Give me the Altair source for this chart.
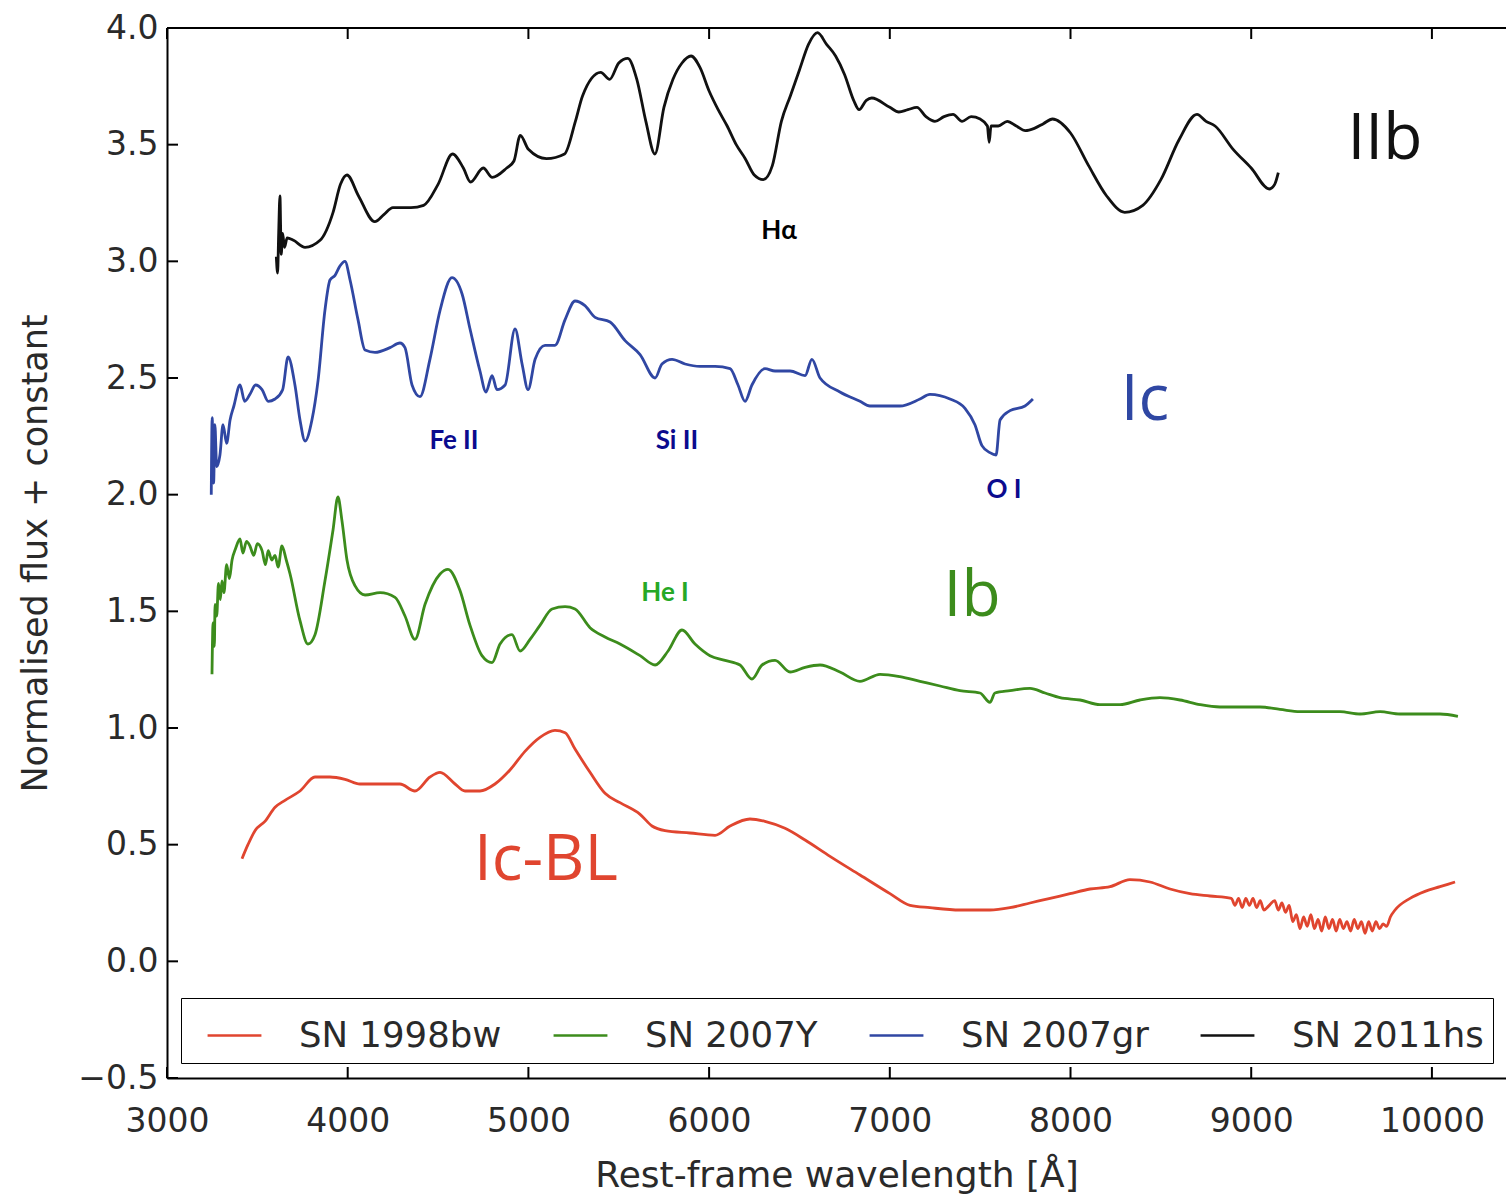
import altair as alt
import pandas as pd

# ---------------- data ----------------
names = ["SN 1998bw", "SN 2007Y", "SN 2007gr", "SN 2011hs"]
colors = ["#e0452f", "#3c8c1c", "#3047a3", "#111111"]

# SN 2011hs (IIb)
wl_11hs = [3605, 3612, 3618, 3625, 3632, 3640, 3650, 3665, 3700, 3764, 3847, 3919, 3960, 3996,
           4060, 4150, 4200, 4250, 4350, 4420, 4500, 4580, 4640, 4680, 4750, 4800, 4880, 4920,
           4955, 5000, 5100, 5200, 5260, 5300, 5400, 5450, 5500, 5550, 5600, 5650, 5700, 5750,
           5800, 5850, 5900, 5950, 6000, 6050, 6100, 6150, 6200, 6250, 6300, 6350, 6400, 6450,
           6500, 6550, 6600, 6650, 6700, 6750, 6800, 6830, 6870, 6900, 7000, 7050, 7100, 7150,
           7200, 7250, 7300, 7350, 7400, 7450, 7500, 7540, 7550, 7560, 7600, 7650, 7700, 7750,
           7800, 7850, 7900, 8000, 8100, 8200, 8300, 8400, 8500, 8600, 8700, 8750, 8800, 8900,
           9000, 9100, 9130, 9150]
fx_11hs = [3.02, 2.95, 3.12, 3.28, 3.03, 3.12, 3.06, 3.10, 3.09, 3.06, 3.09, 3.21, 3.33, 3.37,
           3.28, 3.17, 3.20, 3.23, 3.23, 3.24, 3.33, 3.46, 3.40, 3.34, 3.40, 3.36, 3.40, 3.43,
           3.54, 3.48, 3.44, 3.46, 3.60, 3.71, 3.81, 3.78, 3.85, 3.87, 3.78, 3.60, 3.46, 3.66,
           3.78, 3.85, 3.88, 3.83, 3.73, 3.65, 3.58, 3.50, 3.44, 3.37, 3.35, 3.41, 3.60, 3.71,
           3.82, 3.93, 3.98, 3.93, 3.88, 3.80, 3.69, 3.65, 3.69, 3.70, 3.66, 3.64, 3.65, 3.66,
           3.62, 3.60, 3.62, 3.63, 3.60, 3.62, 3.61, 3.58, 3.51, 3.58, 3.58, 3.60, 3.58, 3.56,
           3.57, 3.59, 3.61, 3.55, 3.41, 3.28, 3.21, 3.24, 3.35, 3.52, 3.63, 3.60, 3.58, 3.48,
           3.40, 3.31, 3.33, 3.38]

# SN 2007gr (Ic)
wl_07gr = [3245, 3250, 3258, 3265, 3275, 3293, 3310, 3330, 3349, 3370, 3404, 3430, 3459, 3490,
           3526, 3560, 3598, 3640, 3670, 3708, 3736, 3764, 3802, 3836, 3874, 3902, 3930, 3957,
           3985, 4013, 4057, 4096, 4151, 4234, 4289, 4317, 4356, 4400, 4455, 4511, 4577, 4633,
           4677, 4732, 4765, 4799, 4826, 4871, 4926, 4965, 4998, 5037, 5092, 5147, 5203, 5258,
           5313, 5369, 5452, 5535, 5618, 5701, 5739, 5795, 5867, 5950, 6033, 6116, 6160, 6199,
           6237, 6309, 6365, 6448, 6531, 6569, 6614, 6724, 6835, 6890, 6946, 7056, 7167, 7222,
           7333, 7416, 7471, 7510, 7554, 7588, 7610, 7665, 7748, 7792]
fx_07gr = [2.00, 2.33, 2.05, 2.30, 2.12, 2.17, 2.30, 2.22, 2.32, 2.38, 2.47, 2.40, 2.43, 2.47,
           2.45, 2.40, 2.41, 2.45, 2.59, 2.47, 2.32, 2.23, 2.32, 2.49, 2.79, 2.92, 2.94, 2.98,
           3.00, 2.92, 2.75, 2.62, 2.61, 2.63, 2.65, 2.63, 2.47, 2.42, 2.58, 2.79, 2.93, 2.86,
           2.71, 2.53, 2.44, 2.51, 2.45, 2.47, 2.71, 2.56, 2.45, 2.58, 2.64, 2.64, 2.75, 2.83,
           2.81, 2.76, 2.74, 2.66, 2.60, 2.50, 2.56, 2.58, 2.56, 2.55, 2.55, 2.54, 2.47, 2.40,
           2.47, 2.54, 2.53, 2.53, 2.51, 2.58, 2.50, 2.44, 2.40, 2.38, 2.38, 2.38, 2.41, 2.43,
           2.41, 2.37, 2.30, 2.21, 2.18, 2.17, 2.32, 2.36, 2.38, 2.41]

# SN 2007Y (Ib)
wl_07Y = [3249, 3255, 3262, 3266, 3275, 3285, 3295, 3304, 3315, 3330, 3345, 3360, 3380, 3404,
          3420, 3440, 3459, 3480, 3500, 3526, 3545, 3560, 3580, 3598, 3615, 3636, 3660, 3681,
          3736, 3780, 3819, 3874, 3919, 3946, 3968, 3996, 4040, 4096, 4179, 4262, 4317, 4372,
          4428, 4511, 4555, 4621, 4677, 4743, 4799, 4843, 4909, 4954, 5009, 5064, 5131, 5203,
          5258, 5341, 5424, 5507, 5618, 5701, 5773, 5850, 5922, 6005, 6088, 6171, 6237, 6293,
          6365, 6448, 6531, 6614, 6724, 6835, 6946, 7056, 7167, 7278, 7388, 7499, 7554, 7582,
          7665, 7776, 7859, 7942, 8053, 8163, 8274, 8385, 8495, 8606, 8717, 8827, 8938, 9049,
          9159, 9270, 9381, 9491, 9602, 9713, 9823, 9934, 10045, 10144]
fx_07Y = [1.23, 1.45, 1.35, 1.53, 1.48, 1.62, 1.55, 1.63, 1.58, 1.70, 1.64, 1.72, 1.77, 1.81,
          1.75, 1.80, 1.78, 1.74, 1.79, 1.76, 1.70, 1.76, 1.72, 1.74, 1.69, 1.78, 1.72, 1.66,
          1.46, 1.36, 1.40, 1.63, 1.85, 1.99, 1.89, 1.72, 1.61, 1.57, 1.58, 1.56, 1.48, 1.38,
          1.53, 1.66, 1.68, 1.59, 1.44, 1.31, 1.28, 1.36, 1.40, 1.33, 1.38, 1.44, 1.51, 1.52,
          1.51, 1.43, 1.39, 1.36, 1.31, 1.27, 1.33, 1.42, 1.36, 1.31, 1.29, 1.27, 1.21, 1.27,
          1.29, 1.24, 1.26, 1.27, 1.24, 1.20, 1.23, 1.22, 1.20, 1.18, 1.16, 1.15, 1.11, 1.15,
          1.16, 1.17, 1.15, 1.13, 1.12, 1.10, 1.10, 1.12, 1.13, 1.12, 1.10, 1.09, 1.09, 1.09,
          1.08, 1.07, 1.07, 1.07, 1.06, 1.07, 1.06, 1.06, 1.06, 1.05]

# SN 1998bw (Ic-BL)
wl_98bw = [3415, 3448, 3487, 3542, 3598, 3653, 3736, 3819, 3902, 3985, 4068, 4179, 4289, 4372,
           4455, 4511, 4594, 4649, 4732, 4815, 4898, 4981, 5064, 5147, 5203, 5258, 5341, 5424,
           5507, 5618, 5684, 5756, 5894, 6033, 6116, 6226, 6309, 6420, 6531, 6669, 6835, 7001,
           7112, 7222, 7388, 7554, 7665, 7776, 7887, 7997, 8108, 8219, 8329, 8440, 8551, 8661,
           8772, 8890, 8910, 8930, 8950, 8970, 8990, 9010, 9030, 9050, 9070, 9100, 9130, 9150,
           9170, 9190, 9210, 9230, 9250, 9270, 9290, 9310, 9330, 9350, 9370, 9390, 9410, 9430,
           9450, 9470, 9490, 9510, 9530, 9550, 9570, 9590, 9610, 9630, 9650, 9670, 9690, 9710,
           9730, 9750, 9770, 9796, 9879, 9962, 10045, 10128]
fx_98bw = [0.44, 0.50, 0.56, 0.60, 0.66, 0.69, 0.73, 0.79, 0.79, 0.78, 0.76, 0.76, 0.76, 0.73,
           0.79, 0.81, 0.76, 0.73, 0.73, 0.76, 0.82, 0.90, 0.96, 0.99, 0.98, 0.91, 0.81, 0.72,
           0.68, 0.63, 0.58, 0.56, 0.55, 0.54, 0.58, 0.61, 0.60, 0.57, 0.52, 0.45, 0.37, 0.29,
           0.24, 0.23, 0.22, 0.22, 0.23, 0.25, 0.27, 0.29, 0.31, 0.32, 0.35, 0.34, 0.31, 0.29,
           0.28, 0.27, 0.24, 0.27, 0.23, 0.27, 0.24, 0.27, 0.23, 0.26, 0.22, 0.24, 0.26, 0.22,
           0.25, 0.21, 0.24, 0.17, 0.20, 0.14, 0.19, 0.15, 0.20, 0.14, 0.18, 0.13, 0.19, 0.14,
           0.18, 0.13, 0.18, 0.14, 0.17, 0.13, 0.18, 0.14, 0.17, 0.12, 0.17, 0.13, 0.17, 0.14,
           0.16, 0.15, 0.19, 0.22, 0.27, 0.30, 0.32, 0.34]

x_ticks = [3000, 4000, 5000, 6000, 7000, 8000, 9000, 10000]
y_ticks = [-0.5, 0.0, 0.5, 1.0, 1.5, 2.0, 2.5, 3.0, 3.5, 4.0]

# Type labels
type_labels = ["IIb", "Ic", "Ib", "Ic-BL"]
type_wl = [9740, 8412, 7455, 5097]
type_fx = [3.52, 2.40, 1.56, 0.43]

# Line identifications
line_labels = ["Hα", "Fe II", "Si II", "O I", "He I"]
line_wl = [6387, 4588, 5822, 7632, 5756]
line_fx = [3.13, 2.23, 2.23, 2.02, 1.58]
line_col = ["#000000", "#0b0b8e", "#0b0b8e", "#0b0b8e", "#26a826"]

# ---------------- build tables ----------------
frames = []
for nm, w, f in [("SN 1998bw", wl_98bw, fx_98bw), ("SN 2007Y", wl_07Y, fx_07Y),
                 ("SN 2007gr", wl_07gr, fx_07gr), ("SN 2011hs", wl_11hs, fx_11hs)]:
    frames.append(pd.DataFrame({"wl": w, "flux": f, "sn": nm}))
spec = pd.concat(frames, ignore_index=True)

W, H = 1339, 1050
xs = alt.Scale(domain=[3000, 10410], nice=False, zero=False)
ys = alt.Scale(domain=[-0.5, 4.0], nice=False, zero=False)

lines = alt.Chart(spec).mark_line(strokeWidth=2.8, clip=True, interpolate="monotone").encode(
    x=alt.X("wl:Q", scale=xs,
            axis=alt.Axis(values=x_ticks, format="d", ticks=False, labelPadding=27,
                          labelFlush=False,
                          labelFontSize=33, labelColor="#2a2a2a", domainColor="#000",
                          domainWidth=2, grid=False, title="Rest-frame wavelength [Å]",
                          titleFontSize=36, titleFontWeight="normal", titleColor="#2a2a2a",
                          titlePadding=20)),
    y=alt.Y("flux:Q", scale=ys,
            axis=alt.Axis(values=y_ticks, format=".1f", ticks=False, labelPadding=9,
                          labelFlush=False,
                          labelFontSize=33, labelColor="#2a2a2a", domainColor="#000",
                          domainWidth=2, grid=False, title="Normalised flux + constant",
                          titleFontSize=35, titleFontWeight="normal", titleColor="#2a2a2a",
                          titleX=-132, titleY=525, titleAngle=270, titleBaseline="middle",
                          titleAlign="center")),
    color=alt.Color("sn:N", scale=alt.Scale(domain=names, range=colors),
                    legend=alt.Legend(title=None, orient="none", legendX=14, legendY=970,
                                      direction="horizontal", columns=4,
                                      symbolType="stroke", symbolSize=2900,
                                      symbolStrokeWidth=2.5, symbolOffset=16,
                                      labelFontSize=35.5,
                                      labelColor="#2a2a2a", labelOffset=36,
                                      columnPadding=34, padding=9, strokeColor="#000",
                                      labelLimit=400, fillColor="#ffffff")),
    order=alt.Order("wl:Q"),
)

# inward tick marks
xt = pd.DataFrame({"t": x_ticks})
yt = pd.DataFrame({"t": y_ticks})
xtick_b = alt.Chart(xt).mark_rule(color="#000", strokeWidth=2).encode(
    x=alt.X("t:Q", scale=xs), y=alt.value(H), y2=alt.value(H - 11))
xtick_t = alt.Chart(xt).mark_rule(color="#000", strokeWidth=2).encode(
    x=alt.X("t:Q", scale=xs), y=alt.value(0), y2=alt.value(11))
ytick_l = alt.Chart(yt).mark_rule(color="#000", strokeWidth=2).encode(
    y=alt.Y("t:Q", scale=ys), x=alt.value(0), x2=alt.value(11))
top_frame = alt.Chart(xt).mark_rule(color="#000", strokeWidth=2).encode(
    x=alt.value(0), x2=alt.value(W), y=alt.value(0))

# type labels
tcols = ["#111111", "#2f47a3", "#3c8c1c", "#e0452f"]
type_layers = []
for lab, w, f, c in zip(type_labels, type_wl, type_fx, tcols):
    d = pd.DataFrame({"lab": [lab], "wl": [w], "fx": [f]})
    type_layers.append(alt.Chart(d).mark_text(font="Open Sans", fontSize=64, color=c,
                                              align="center", baseline="middle").encode(
        x=alt.X("wl:Q", scale=xs), y=alt.Y("fx:Q", scale=ys), text="lab:N"))

line_layers = []
for lab, w, f, c in zip(line_labels, line_wl, line_fx, line_col):
    d = pd.DataFrame({"lab": [lab], "wl": [w], "fx": [f]})
    line_layers.append(alt.Chart(d).mark_text(font="Lato", fontWeight="bold", fontSize=26,
                                              color=c, align="center",
                                              baseline="middle").encode(
        x=alt.X("wl:Q", scale=xs), y=alt.Y("fx:Q", scale=ys), text="lab:N"))

chart = alt.layer(lines, xtick_b, xtick_t, ytick_l, top_frame, *type_layers, *line_layers).properties(
    width=W, height=H,
    autosize=alt.AutoSizeParams(type="none"),
    padding={"left": 167, "top": 28, "right": 0, "bottom": 121},
).configure_view(stroke=None).configure_legend(strokeWidth=2).configure(
    font="DejaVu Sans", background="white")

chart.save("out.html", embed_options={"renderer": "svg", "actions": False})
